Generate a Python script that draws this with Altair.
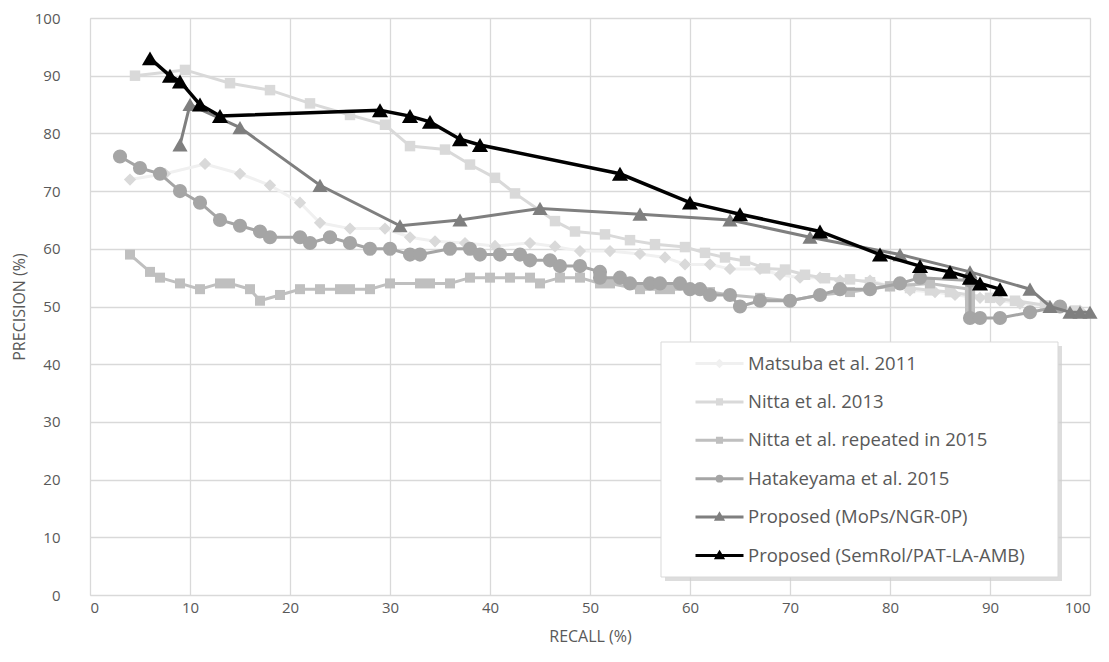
import altair as alt
import pandas as pd

# ---------------- data ----------------
series_names = [
    "Matsuba et al. 2011",
    "Nitta et al. 2013",
    "Nitta et al. repeated in 2015",
    "Hatakeyama et al. 2015",
    "Proposed (MoPs/NGR-0P)",
    "Proposed (SemRol/PAT-LA-AMB)",
]

matsuba_recall = [4, 7.5, 11.5, 15, 18, 21, 23, 26, 29.5, 32, 34.5, 37.5, 40.5, 44, 46.5, 49, 52, 55,
                  57.5, 59.5, 62, 64, 67, 69, 71, 73, 75, 78, 80, 82, 84.5, 86.5, 89, 91, 93, 96, 99]
matsuba_precision = [72, 73, 74.7, 73, 71, 68, 64.5, 63.5, 63.5, 62, 61.3, 61, 60.5, 61, 60.4, 59.6, 59.6, 59.1,
                     58.5, 57.3, 57.3, 56.5, 56.5, 55.5, 55, 55, 54.5, 54.5, 53.5, 52.8, 52.5, 52, 51.5, 51, 50.5, 50, 49.3]

nitta13_recall = [4.5, 9.5, 14, 18, 22, 26, 29.5, 32, 35.5, 38, 40.5, 42.5, 46.5, 48.5, 51.5, 54, 56.5, 59.5,
                  61.5, 63.5, 65.5, 67.5, 69.5, 71.5, 73.5, 76, 78, 80, 82, 84, 86, 88, 90, 92.5, 95.5, 98.5]
nitta13_precision = [90, 91, 88.7, 87.5, 85.2, 83.2, 81.5, 77.8, 77.2, 74.6, 72.3, 69.6, 64.8, 63, 62.5, 61.5, 60.8, 60.3,
                     59.3, 58.5, 57.9, 56.6, 56.4, 55.5, 54.9, 54.7, 54.2, 53.5, 53.2, 52.8, 52.5, 52, 51.5, 51, 50.2, 49.3]

nitta15_recall = [4, 6, 7, 9, 11, 13, 14, 16, 17, 19, 21, 23, 25, 26, 28, 30, 33, 34, 36, 38, 40, 42, 44, 45,
                  47, 49, 51, 52, 55, 57, 58, 60, 62, 64, 67, 70, 73, 76, 80, 84, 88, 88, 88, 88, 88, 88]
nitta15_precision = [59, 56, 55, 54, 53, 54, 54, 53, 51, 52, 53, 53, 53, 53, 53, 54, 54, 54, 54, 55, 55, 55, 55, 54,
                     55, 55, 54, 54, 53, 53, 53, 53, 52.5, 52, 51.5, 51, 52, 52.5, 53.5, 54, 53, 52, 51, 50, 49, 48]

hatake_recall = [3, 5, 7, 9, 11, 13, 15, 17, 18, 21, 22, 24, 26, 28, 30, 32, 33, 36, 38, 39, 41, 43, 44, 46,
                 47, 49, 51, 51, 53, 54, 56, 57, 59, 60, 61, 62, 64, 65, 67, 70, 73, 75, 78, 81, 83, 88, 88,
                 89, 91, 94, 97]
hatake_precision = [76, 74, 73, 70, 68, 65, 64, 63, 62, 62, 61, 62, 61, 60, 60, 59, 59, 60, 60, 59, 59, 59, 58, 58,
                    57, 57, 56, 55, 55, 54, 54, 54, 54, 53, 53, 52, 52, 50, 51, 51, 52, 53, 53, 54, 55, 54.5, 48,
                    48, 48, 49, 50]

mops_recall = [9, 10, 15, 23, 31, 37, 45, 55, 64, 72, 81, 88, 94, 96, 98, 99, 100]
mops_precision = [78, 85, 81, 71, 64, 65, 67, 66, 65, 62, 59, 56, 53, 50, 49, 49, 49]

semrol_recall = [6, 8, 9, 11, 13, 29, 32, 34, 37, 39, 53, 60, 65, 73, 79, 83, 86, 88, 89, 91]
semrol_precision = [93, 90, 89, 85, 83, 84, 83, 82, 79, 78, 73, 68, 66, 63, 59, 57, 56, 55, 54, 53]

x_ticks = [0, 10, 20, 30, 40, 50, 60, 70, 80, 90, 100]
y_ticks = [0, 10, 20, 30, 40, 50, 60, 70, 80, 90, 100]

# ---------------- styles ----------------
line_colors = ["#f0f0f0", "#d9d9d9", "#bfbfbf", "#a5a5a5", "#7f7f7f", "#000000"]
marker_colors = ["#d9d9d9", "#d9d9d9", "#bfbfbf", "#a5a5a5", "#7f7f7f", "#000000"]
marker_shapes = ["diamond", "square", "square", "circle", "triangle-up", "triangle-up"]
marker_sizes = [150, 110, 100, 200, 230, 260]
line_widths = [3, 3, 3, 3, 3, 3.5]

legend_paths = [
    "M-2,0H2M-0.22,0L0,-0.22L0.22,0L0,0.22Z",
    "M-2,0H2M-0.17,-0.17H0.17V0.17H-0.17Z",
    "M-2,0H2M-0.17,-0.17H0.17V0.17H-0.17Z",
    "M-2,0H2M-0.2,0A0.2,0.2,0,1,0,0.2,0A0.2,0.2,0,1,0,-0.2,0Z",
    "M-2,0H2M0,-0.24L0.25,0.18L-0.25,0.18Z",
    "M-2,0H2M0,-0.24L0.25,0.18L-0.25,0.18Z",
]

all_x = [matsuba_recall, nitta13_recall, nitta15_recall, hatake_recall, mops_recall, semrol_recall]
all_y = [matsuba_precision, nitta13_precision, nitta15_precision, hatake_precision, mops_precision, semrol_precision]

frames = []
for name, xs, ys in zip(series_names, all_x, all_y):
    frames.append(pd.DataFrame({"series": name, "recall": xs, "precision": ys, "idx": range(len(xs))}))
df = pd.concat(frames, ignore_index=True)

FONT = "Open Sans"
TXT = "#595959"

x_enc = alt.X("recall:Q", scale=alt.Scale(domain=[0, 100], nice=False, zero=False),
              axis=alt.Axis(values=x_ticks, title="RECALL (%)", grid=True, domain=False, ticks=False,
                            labelFontSize=15, labelColor=TXT, labelFont=FONT, labelPadding=5,
                            titleFontSize=16, titleFont=FONT, titleColor=TXT, titleFontWeight="normal",
                            titlePadding=13, gridColor="#d9d9d9", gridWidth=1.3))
y_enc = alt.Y("precision:Q", scale=alt.Scale(domain=[0, 100], nice=False, zero=False),
              axis=alt.Axis(values=y_ticks, title="PRECISION (%)", grid=True, domain=False, ticks=False,
                            labelFontSize=15, labelColor=TXT, labelFont=FONT, labelPadding=30,
                            titleFontSize=16, titleFont=FONT, titleColor=TXT, titleFontWeight="normal",
                            titlePadding=7, gridColor="#d9d9d9", gridWidth=1.3))

base = alt.Chart(df)

layers = []
for i, name in enumerate(series_names):
    sub = base.transform_filter(alt.datum.series == name)
    layers.append(
        sub.mark_line(color=line_colors[i], strokeWidth=line_widths[i]).encode(
            x=x_enc, y=y_enc, order="idx:Q")
    )
    layers.append(
        sub.mark_point(filled=True, opacity=1, color=marker_colors[i], shape=marker_shapes[i],
                       size=marker_sizes[i], strokeWidth=0).encode(x=x_enc, y=y_enc)
    )

# legend background box with a soft shadow
box_df = pd.DataFrame({"k": [0]})
shadow = alt.Chart(box_df).mark_rect(color="#cfcfcf", opacity=0.7).encode(
    x=alt.value(575), x2=alt.value(972), y=alt.value(328), y2=alt.value(563))
box = alt.Chart(box_df).mark_rect(fill="white", stroke="#d9d9d9", strokeWidth=1).encode(
    x=alt.value(571), x2=alt.value(968), y=alt.value(324), y2=alt.value(559))

legend_layer = base.transform_filter("false").mark_point(filled=True, opacity=1).encode(
    x=x_enc, y=y_enc,
    fill=alt.Fill("series:N", scale=alt.Scale(domain=series_names, range=marker_colors),
                  legend=alt.Legend(title=None, orient="none", legendX=616, legendY=332,
                                    symbolSize=576, symbolStrokeWidth=3, labelFontSize=18.5,
                                    labelFont=FONT, labelColor=TXT, labelOffset=15, rowPadding=15.4,
                                    padding=0, labelLimit=400)),
    stroke=alt.Stroke("series:N", scale=alt.Scale(domain=series_names, range=line_colors), legend=alt.Legend(title=None)),
    shape=alt.Shape("series:N", scale=alt.Scale(domain=series_names, range=legend_paths), legend=alt.Legend(title=None)),
)

chart = alt.layer(*layers, shadow, box, legend_layer).properties(
    width=1000, height=577,
    autosize=alt.AutoSizeParams(type="none"),
    padding={"left": 82, "top": 10, "right": 10, "bottom": 60},
).configure_view(stroke=None).configure(background="white")

chart.save("out.html", embed_options={"renderer": "svg", "actions": False})
